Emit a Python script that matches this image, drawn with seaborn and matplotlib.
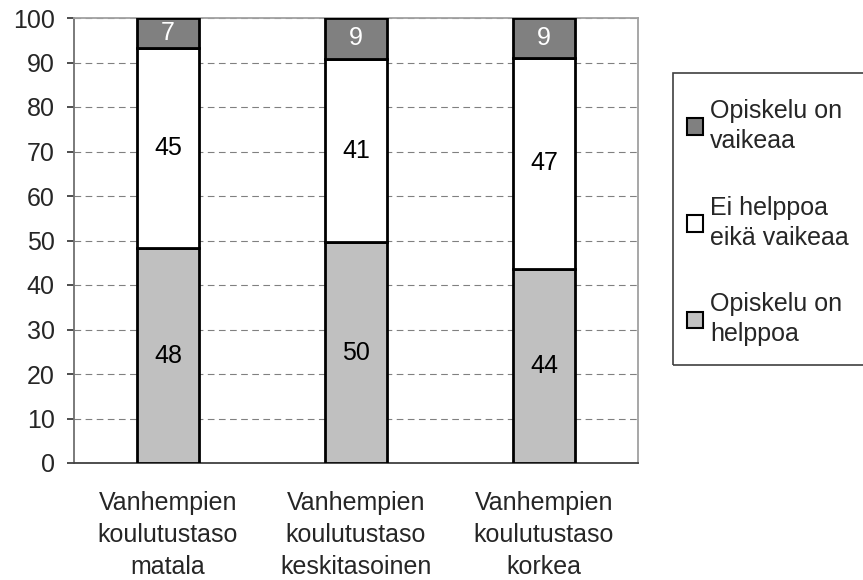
import matplotlib
matplotlib.use("Agg")
import matplotlib.pyplot as plt
import matplotlib.patches as mpatches
import seaborn as sns
import pandas as pd
import numpy as np

# Data
groups = ['Vanhempien\nkoulutustaso\nmatala',
          'Vanhempien\nkoulutustaso\nkeskitasoinen',
          'Vanhempien\nkoulutustaso\nkorkea']
helppoa = [48.3, 49.6, 43.7]
ei_helppoa = [45.0, 41.2, 47.3]
vaikeaa = [6.7, 9.2, 9.0]

series_names = ['Opiskelu on\nhelppoa', 'Ei helppoa\neikä vaikeaa', 'Opiskelu on\nvaikeaa']
colors = ['#c0c0c0', '#ffffff', '#808080']
text_colors = ['black', 'black', 'white']

sns.set_style("white")
plt.rcParams['font.family'] = ['Liberation Sans', 'DejaVu Sans']
FS = 18

fig = plt.figure(figsize=(8.63, 5.80), dpi=100)
ax = fig.add_axes([74/863, 1 - 463/580, (638 - 74)/863, (463 - 18)/580])

df = pd.DataFrame({'group': groups, 'helppoa': helppoa,
                   'ei': ei_helppoa, 'vaikeaa': vaikeaa})
layers = ['helppoa', 'ei', 'vaikeaa']
bottom = np.zeros(len(groups))
for key, col, tcol in zip(layers, colors, text_colors):
    sns.barplot(data=df, x='group', y=key, bottom=bottom, color=col,
                width=0.33, edgecolor='black', linewidth=2, saturation=1,
                ax=ax, zorder=3)
    for i, v in enumerate(df[key]):
        ax.text(i, bottom[i] + v / 2, f'{round(v)}', ha='center', va='center',
                fontsize=FS, color=tcol, zorder=4)
    bottom = bottom + df[key].values

ax.set_ylim(0, 100)
ax.set_xlim(-0.5, 2.5)
ax.set_yticks(range(0, 101, 10))
ax.set_xlabel('')
ax.set_ylabel('')
ax.yaxis.grid(True, linestyle=(0, (6, 4)), color='#808080', linewidth=0.8, zorder=0)
ax.xaxis.grid(False)

ax.set_xticks([-0.5, 0.5, 1.5, 2.5], minor=True)
ax.tick_params(axis='x', which='major', length=0, pad=20, labelsize=FS)
ax.tick_params(axis='x', which='minor', length=5, direction='out', color='#606060', width=1.2)
ax.tick_params(axis='y', length=5, direction='out', color='#303030', width=1.2,
               labelsize=FS, pad=9, left=True)
for lbl in ax.get_xticklabels():
    lbl.set_linespacing(1.42)

ax.spines['left'].set_color('#707070')
ax.spines['bottom'].set_color('#404040')
ax.spines['top'].set_color('#a0a0a0')
ax.spines['right'].set_color('#a0a0a0')
for s in ax.spines.values():
    s.set_linewidth(1.3)

# legend frame drawn separately so its padding can differ from the entries
frame = mpatches.Rectangle((673/863, 1 - 365/580), 200/863, (365 - 73)/580,
                           transform=fig.transFigure, fill=False,
                           edgecolor='#404040', linewidth=1.2)
fig.patches.append(frame)

handles = [mpatches.Patch(facecolor=c, edgecolor='black', linewidth=1.5, label=n)
           for c, n in zip(colors, series_names)][::-1]
leg = fig.legend(handles=handles, loc='upper left',
                 bbox_to_anchor=(687/863, 1 - 99/580), frameon=False,
                 fontsize=FS, labelspacing=1.7, handlelength=0.65, handleheight=0.65,
                 handletextpad=0.28, borderpad=0, borderaxespad=0)
for t in leg.get_texts():
    t.set_linespacing(1.32)

fig.savefig('out.png', dpi=100)
